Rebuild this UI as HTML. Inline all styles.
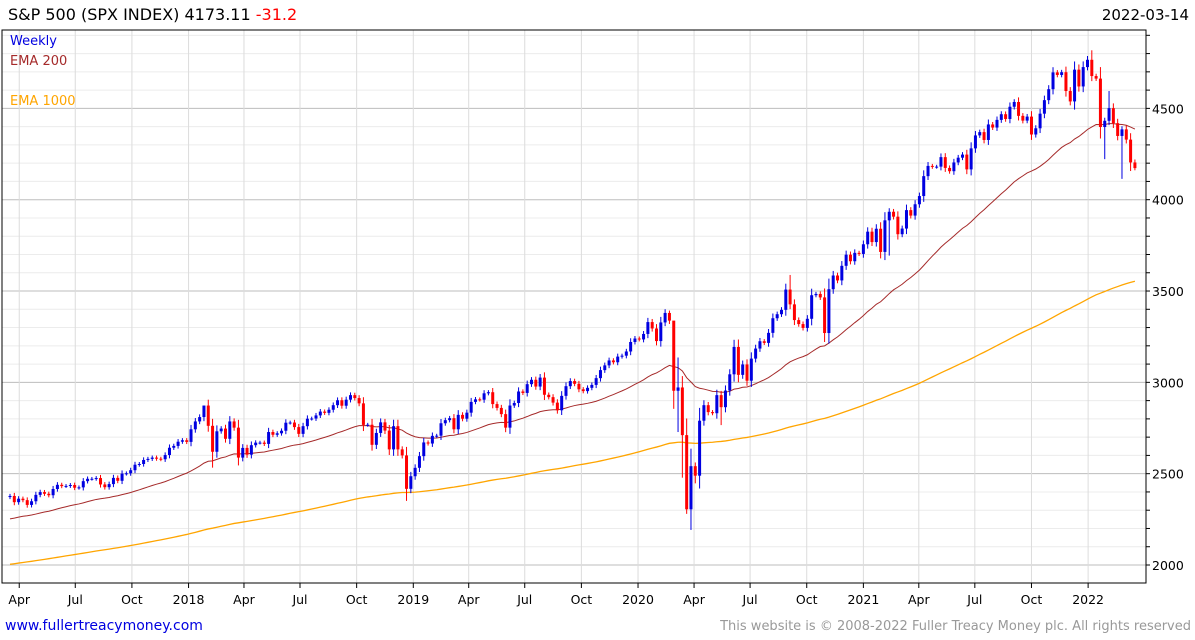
<!DOCTYPE html>
<html><head><meta charset="utf-8"><style>
body{margin:0;background:#fff;width:1195px;height:640px;overflow:hidden;font-family:"DejaVu Sans","Liberation Sans",sans-serif}
svg{position:absolute;left:0;top:0}
</style></head><body>
<svg id="c" width="1195" height="640"></svg>
<script>
const startDate = new Date(2017,2,17);
const closes = [2378,2344,2363,2355,2329,2349,2384,2399,2390,2382,2416,2439,2432,2433,2438,2423,2425,2459,2472,2472,2476,2441,2426,2443,2477,2461,2500,2502,2519,2549,2553,2575,2581,2588,2582,2579,2602,2642,2652,2675,2683,2674,
2743,2786,2810,2873,2762,2620,2732,2747,2691,2786,2752,2588,2641,2604,2656,2670,2670,2663,2728,2713,2721,2735,2779,2780,2755,2718,2760,2801,2802,2819,2840,2833,2850,2875,2902,2872,2905,2930,2914,2885,2767,2768,2658,2723,2781,2736,2633,2760,2633,2600,2417,2486,
2532,2596,2671,2665,2707,2708,2776,2793,2804,2743,2822,2801,2834,2893,2907,2905,2940,2946,2881,2860,2826,2752,2873,2887,2950,2942,2990,3014,2977,3026,2932,2919,2889,2847,2926,2979,3007,2992,2962,2952,2970,2986,3023,3067,3093,3120,3110,3141,3146,3169,3221,3240,
3235,3265,3330,3295,3226,3328,3380,3338,2954,2972,2711,2305,2541,2489,2790,2875,2837,2831,2930,2864,2955,3044,3194,3041,3098,3009,3130,3185,3225,3216,3271,3351,3373,3397,3508,3427,3341,3319,3298,3348,3477,3484,3465,3270,3510,3585,3558,3638,3699,3663,3709,3703,3756,
3825,3768,3841,3714,3887,3934,3907,3811,3842,3943,3913,3975,4020,4129,4185,4180,4181,4233,4174,4156,4204,4230,4247,4166,4281,4352,4370,4327,4412,4395,4437,4468,4442,4509,4535,4459,4433,4455,4357,4391,4471,4545,4605,4697,4683,4698,4595,4538,4712,4620,4726,4766,
4677,4663,4398,4432,4501,4419,4349,4385,4329,4204,4173];
const firstOpen = 2372;
const lowOverrides = {47:2533, 92:2351, 154:2855, 155:2728, 156:2478, 157:2280, 158:2192, 159:2447, 165:2766, 204:3694, 254:4222, 258:4114, 260:4157, 261:4161};
const highOverrides = {45:2873, 153:3393, 154:3260, 155:3136, 158:2637, 168:3233, 181:3588, 250:4787, 251:4818, 255:4595};
const ema200Seed = 2246, ema1000Seed = 2000;
const ema200Alpha = 2/41, ema1000Alpha = 0.0098;
const yTicks = [2000,2500,3000,3500,4000,4500];
const xLabels = [["Apr",2017,3],["Jul",2017,6],["Oct",2017,9],["2018",2018,0],["Apr",2018,3],["Jul",2018,6],["Oct",2018,9],["2019",2019,0],["Apr",2019,3],["Jul",2019,6],["Oct",2019,9],["2020",2020,0],["Apr",2020,3],["Jul",2020,6],["Oct",2020,9],["2021",2021,0],["Apr",2021,3],["Jul",2021,6],["Oct",2021,9],["2022",2022,0]];

const svg=document.getElementById('c');const NS='http://www.w3.org/2000/svg';
function mk(t,a,p){const e=document.createElementNS(NS,t);for(const k in a)e.setAttribute(k,a[k]);(p||svg).appendChild(e);return e;}
const L=2,T=30,R=1146,B=583;
function yS(v){return 565-(v-2000)*0.18265;}
function xI(i){return 10+i*4.31;}
function xD(d){return 10+(d-startDate)/86400000/7*4.31;}

for(let v=2000;v<=4900;v+=100){const g=mk('line',{x1:L,x2:R,y1:yS(v),y2:yS(v),stroke:v%500?'#ececec':'#bdbdbd','stroke-width':1});

const t=mk('line',{x1:R,x2:R+4,y1:yS(v),y2:yS(v),stroke:'#000'});}
xLabels.forEach(l=>{const x=xD(new Date(l[1],l[2],1));
const g=mk('line',{x1:x,x2:x,y1:T,y2:B,stroke:'#dcdcdc'});
const tk=mk('line',{x1:x,x2:x,y1:B,y2:B+5,stroke:'#000'});
const t=mk('text',{x:x,y:604,'text-anchor':'middle','font-size':12.5,fill:'#000'});t.textContent=l[0];
});
yTicks.forEach(v=>{const t=mk('text',{x:1152,y:yS(v)+5,'font-size':12.5,fill:'#000'});t.textContent=v;
});
const fr=mk('rect',{x:L,y:T,width:R-L,height:B-T,fill:'none',stroke:'#000'});

let e1=ema200Seed,e2=ema1000Seed,p1=[],p2=[];
closes.forEach((c,i)=>{e1=e1+ema200Alpha*(c-e1);e2=e2+ema1000Alpha*(c-e2);p1.push(xI(i)+','+yS(e1));p2.push(xI(i)+','+yS(e2));});
const l2=mk('polyline',{points:p2.join(' '),fill:'none',stroke:'#ffa500','stroke-width':1.3});
const l1=mk('polyline',{points:p1.join(' '),fill:'none',stroke:'#a52a2a','stroke-width':1});

closes.forEach((c,i)=>{const o=i?closes[i-1]:firstOpen;const up=c>=o;const col=up?'#0000e0':'#ff0000';
const hi=highOverrides[i]||Math.max(o,c)+Math.abs(c-o)*0.2+10;const lo=lowOverrides[i]||Math.min(o,c)-Math.abs(c-o)*0.2-10;
const x=xI(i);const g=mk('g',{});
mk('line',{x1:x,x2:x,y1:yS(hi),y2:yS(lo),stroke:col,'stroke-width':1},g);
const y1=yS(Math.max(o,c)),y2=yS(Math.min(o,c));mk('rect',{x:x-1.5,y:y1,width:3,height:Math.max(1,y2-y1),fill:col},g);});

function txt(s,a,name){const t=mk('text',a);t.textContent=s;return t;}
const ti=txt('',{x:8,y:20,'font-size':16,fill:'#000'},'chart-title');ti.innerHTML='S&amp;P 500 (SPX INDEX) 4173.11 <tspan fill="#ff0000">-31.2</tspan>';
txt('2022-03-14',{x:1189,y:20,'font-size':15,fill:'#000','text-anchor':'end'},'chart-date');
txt('Weekly',{x:10,y:45,'font-size':13,fill:'#0000e0'},'legend-weekly');
txt('EMA 200',{x:10,y:65,'font-size':13,fill:'#a52a2a'},'legend-ema-200');
txt('EMA 1000',{x:10,y:105,'font-size':13,fill:'#ffa500'},'legend-ema-1000');
const lk=txt('www.fullertreacymoney.com',{x:5,y:630,'font-size':14,fill:'#0000e0'},'website-link');
txt('This website is © 2008-2022 Fuller Treacy Money plc. All rights reserved',{x:1191,y:630,'font-size':13,fill:'#999','text-anchor':'end'},'copyright-notice');
</script>
</body></html>
